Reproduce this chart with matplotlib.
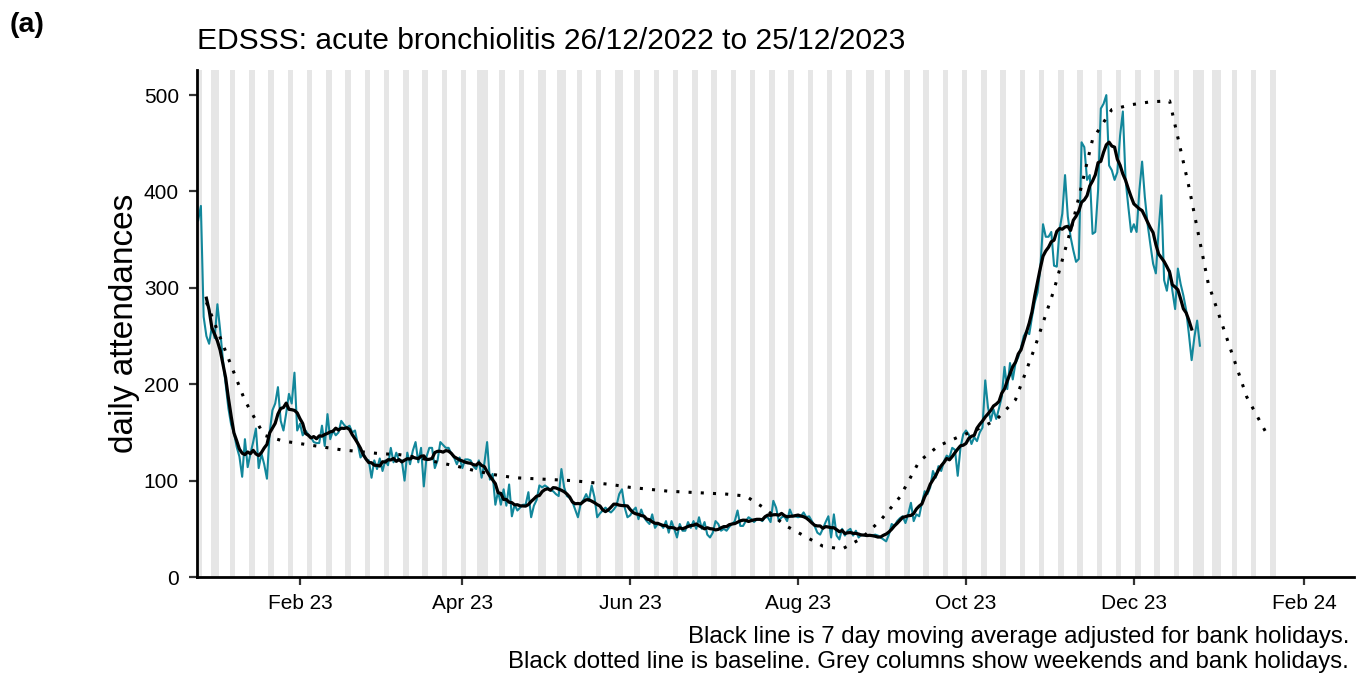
import numpy as np
import pandas as pd
import matplotlib
matplotlib.use("Agg")
import matplotlib.pyplot as plt
import matplotlib.dates as mdates

plt.rcParams['font.family'] = ['Liberation Sans', 'DejaVu Sans']

# daily attendances, 26/12/2022 .. 25/12/2023 (one row = one week)
start_date = "2022-12-26"
attendances = [
    370, 385, 270, 250, 242, 260, 248,
    283, 256, 225, 200, 175, 158, 150,
    135, 125, 104, 143, 114, 128, 140,
    154, 113, 128, 117, 102, 150, 173,
    180, 197, 162, 152, 170, 190, 180,
    212, 152, 159, 147, 152, 148, 145,
    140, 139, 139, 157, 136, 169, 143,
    152, 147, 150, 162, 158, 155, 157,
    150, 152, 138, 124, 128, 122, 121,
    103, 121, 112, 123, 110, 121, 116,
    134, 119, 129, 121, 121, 100, 129,
    117, 131, 140, 119, 134, 94, 125,
    134, 134, 113, 121, 140, 137, 134,
    134, 128, 124, 117, 124, 113, 122,
    122, 121, 115, 112, 121, 103, 118,
    140, 101, 107, 75, 89, 75, 91,
    74, 96, 63, 75, 69, 72, 75,
    75, 88, 62, 74, 80, 95, 93,
    95, 93, 90, 89, 86, 84, 112,
    93, 84, 82, 78, 70, 62, 76,
    80, 86, 79, 95, 83, 62, 66,
    69, 72, 69, 67, 70, 74, 86,
    91, 72, 62, 64, 69, 72, 60,
    70, 62, 58, 55, 65, 51, 55,
    55, 51, 58, 46, 58, 50, 41,
    55, 48, 48, 57, 51, 58, 50,
    62, 50, 57, 44, 41, 46, 58,
    55, 48, 50, 48, 52, 55, 58,
    69, 53, 53, 58, 62, 60, 57,
    60, 60, 58, 62, 62, 57, 79,
    72, 58, 62, 63, 58, 70, 63,
    63, 62, 63, 67, 62, 63, 58,
    53, 46, 44, 50, 57, 63, 41,
    65, 43, 39, 50, 43, 48, 50,
    43, 48, 41, 44, 43, 43, 43,
    43, 44, 43, 41, 39, 37, 44,
    55, 53, 58, 61, 63, 56, 65,
    77, 58, 65, 63, 77, 89, 86,
    93, 110, 103, 115, 110, 120, 126,
    124, 134, 132, 105, 134, 148, 152,
    148, 138, 145, 141, 150, 155, 204,
    176, 162, 174, 164, 175, 187, 218,
    195, 222, 205, 222, 228, 238, 250,
    255, 252, 270, 285, 295, 320, 366,
    353, 353, 358, 323, 322, 360, 377,
    417, 374, 353, 339, 327, 330, 451,
    446, 412, 417, 356, 358, 401, 486,
    491, 500, 427, 422, 412, 420, 458,
    483, 412, 384, 358, 366, 358, 401,
    431, 394, 366, 345, 325, 315, 360,
    396, 308, 297, 318, 297, 278, 320,
    304, 292, 277, 252, 225, 249, 266,
    240,
]

# weekly baseline, from 29/12/2022
baseline_start = "2022-12-29"
baseline = [
    285, 234, 183, 147, 141, 138, 135, 132, 130, 128,
    127, 124, 119, 115, 110, 106, 103, 102, 101, 100,
    98, 96, 93, 91, 89, 88, 87, 86, 84, 71,
    54, 43, 32, 29, 40, 59, 83, 120, 136, 145,
    153, 163, 184, 238, 298, 370, 454, 485, 490, 493,
    494, 405, 305, 246, 187, 150,
]

bank_holidays = ["2022-12-26", "2022-12-27", "2023-01-02", "2023-04-07",
                 "2023-04-10", "2023-05-01", "2023-05-08", "2023-05-29",
                 "2023-08-28", "2023-12-25", "2023-12-26", "2024-01-01"]
grey_from, grey_to = "2022-12-24", "2024-01-21"

dates = pd.date_range(start_date, periods=len(attendances), freq="D")
daily = pd.Series(attendances, index=dates, dtype=float)
ma7 = daily.rolling(7, center=True).mean()
base_dates = pd.date_range(baseline_start, periods=len(baseline), freq="7D")

fig = plt.figure(figsize=(13.57, 6.74), dpi=100)
ax = fig.add_axes([0.1452, 0.1439, 0.8526, 0.7522])

# grey columns: weekends + bank holidays
cal = pd.date_range(grey_from, grey_to, freq="D")
hol = set(pd.to_datetime(bank_holidays))
for d in cal:
    if d.weekday() >= 5 or d in hol:
        x = mdates.date2num(d)
        ax.axvspan(x - 0.5, x + 0.5, color="#e6e6e6", lw=0, zorder=0)

ax.plot(dates, daily.values, color="#12879b", lw=1.5, zorder=2)
ax.plot(dates, ma7.values, color="black", lw=2.3, zorder=3)
ax.plot(base_dates, baseline, color="black", lw=2.2,
        linestyle=(0, (1, 3.0)), zorder=4)

ax.set_xlim(mdates.date2num(pd.Timestamp("2022-12-25")) + 0.6,
            mdates.date2num(pd.Timestamp("2024-02-19")))
ax.set_ylim(0, 526)
ax.set_yticks([0, 100, 200, 300, 400, 500])
ax.xaxis.set_major_locator(mdates.MonthLocator(bymonth=[2, 4, 6, 8, 10, 12]))
ax.xaxis.set_major_formatter(mdates.DateFormatter("%b %y"))

for s in ["top", "right"]:
    ax.spines[s].set_visible(False)
for s in ["left", "bottom"]:
    ax.spines[s].set_linewidth(2.0)
    ax.spines[s].set_color("black")
ax.tick_params(axis="both", length=6, width=1.6, color="#333333",
               labelsize=15, labelcolor="black", pad=6)
ax.tick_params(axis="y", pad=7)
ax.set_ylabel("daily attendances", fontsize=24, labelpad=3)

fig.text(197 / 1357, 1 - 49 / 674, "EDSSS: acute bronchiolitis 26/12/2022 to 25/12/2023",
         fontsize=21.6, ha="left", va="baseline")
fig.text(10 / 1357, 1 - 32 / 674, "(a)", fontsize=20.5, fontweight="bold",
         ha="left", va="baseline")
fig.text(1349 / 1357, 1 - 643 / 674,
         "Black line is 7 day moving average adjusted for bank holidays.",
         fontsize=17.3, ha="right", va="baseline")
fig.text(1349 / 1357, 1 - 668 / 674,
         "Black dotted line is baseline. Grey columns show weekends and bank holidays.",
         fontsize=17.3, ha="right", va="baseline")

fig.savefig("out.png", dpi=100)
